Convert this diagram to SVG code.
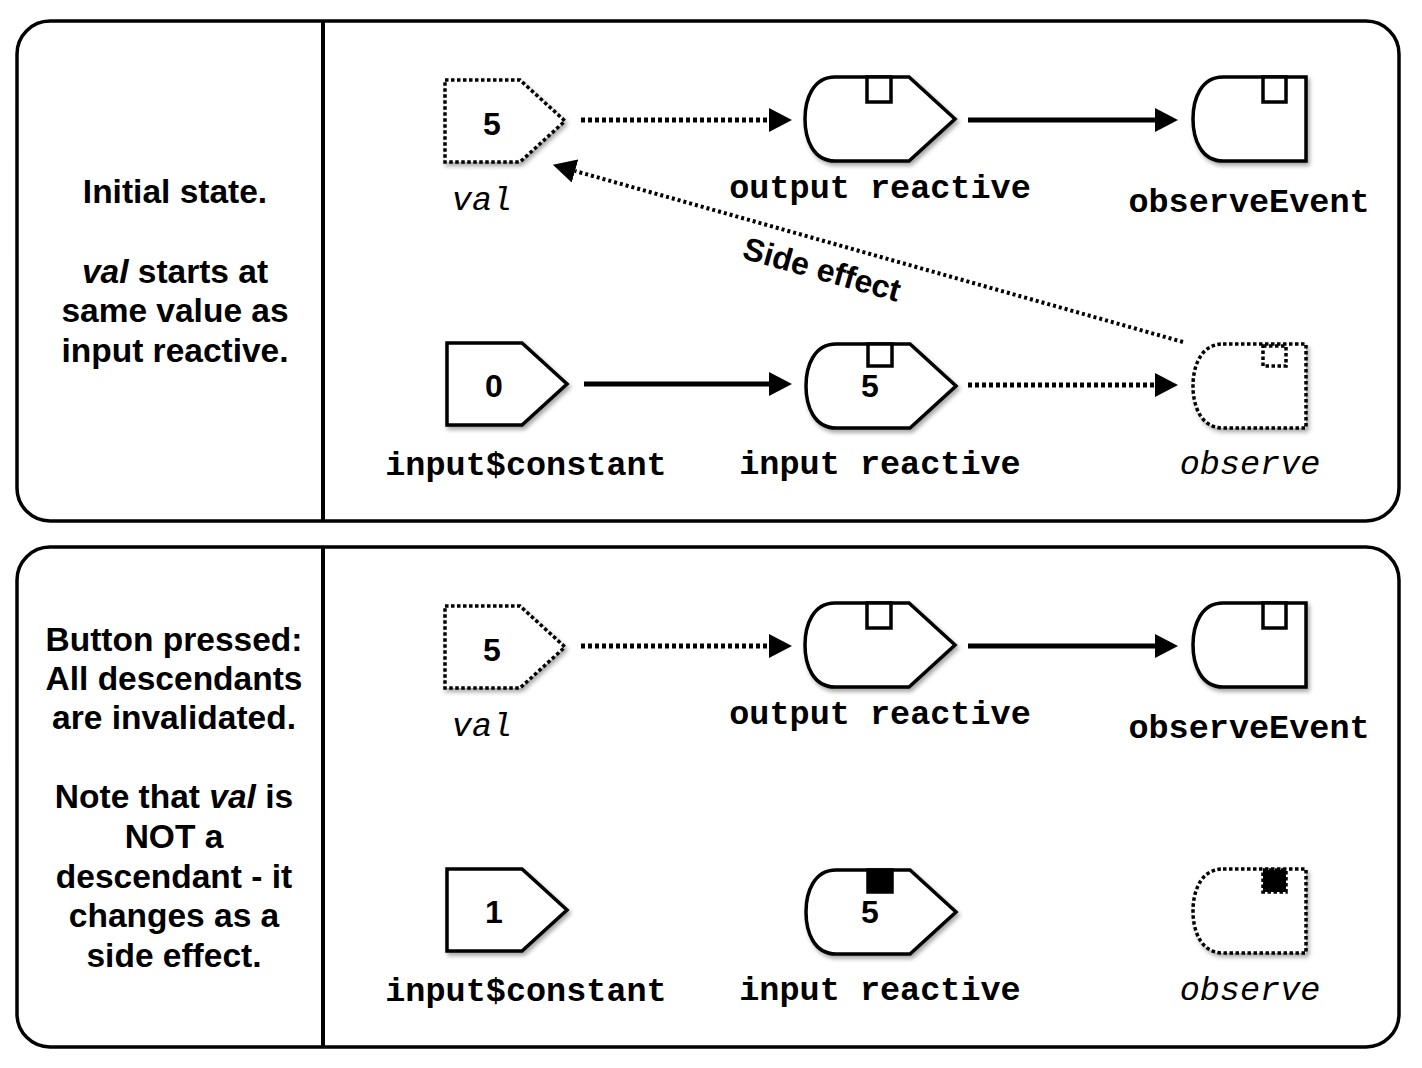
<svg xmlns="http://www.w3.org/2000/svg" xmlns:xlink="http://www.w3.org/1999/xlink" width="1422" height="1068" viewBox="0 0 1422 1068">
<style>
.panel{fill:#fff;stroke:#000;stroke-width:3.5}
.div{stroke:#000;stroke-width:4}
.node{fill:#fff;stroke:#000;stroke-width:3.5;stroke-linejoin:miter}
.dot{stroke-dasharray:3.5 2.5}
.sq{fill:#fff;stroke:#000;stroke-width:3.5}
.sqf{fill:#000;stroke:#000;stroke-width:3.5}
.edge{fill:none;stroke:#000;stroke-width:5}
.edot{stroke-dasharray:4 3}
.side{fill:none;stroke:#000;stroke-width:4;stroke-dasharray:3 3}
.desc{font-family:"Liberation Sans",Arial,Helvetica,sans-serif;font-weight:bold;font-size:33.5px;text-anchor:middle}
.num{font-family:"Liberation Sans",Arial,Helvetica,sans-serif;font-weight:bold;font-size:32px;text-anchor:middle}
.lbl{font-family:"Liberation Mono","Courier New",monospace;font-weight:bold;font-size:33.5px;text-anchor:middle}
.lbli{font-family:"Liberation Mono","Courier New",monospace;font-style:italic;font-size:33.5px;text-anchor:middle}
.sidelbl{font-family:"Liberation Sans",Arial,Helvetica,sans-serif;font-weight:bold;font-size:32px;text-anchor:middle}
</style>
<defs>
<filter id="sh" x="-20%" y="-20%" width="150%" height="150%">
<feDropShadow dx="2" dy="3" stdDeviation="2" flood-color="#000" flood-opacity="0.35"/>
</filter>
<marker id="ah" viewBox="0 0 23 24" refX="0" refY="12" markerWidth="23" markerHeight="24" markerUnits="userSpaceOnUse" orient="auto">
<path d="M0,0 L23,12 L0,24 Z" fill="#000"/>
</marker>
<path id="pent" d="M0,0 H75 L120,41 L75,82 H0 Z"/>
<path id="react" d="M30,0 H104 L150,42 L104,84 H30 C8,84 0,62 0,42 C0,22 8,0 30,0 Z"/>
<path id="obs" d="M30,0 H113 V84 H30 C8,84 0,62 0,42 C0,22 8,0 30,0 Z"/>
</defs>

<g id="panel1">
<rect class="panel" x="17" y="21" width="1382" height="500" rx="33" ry="33"/>
<line class="div" x1="323" y1="21" x2="323" y2="521"/>
<text class="desc" x="175" y="203">Initial state.</text>
<text class="desc" x="175" y="283"><tspan font-style="italic">val</tspan> starts at</text>
<text class="desc" x="175" y="322">same value as</text>
<text class="desc" x="175" y="362">input reactive.</text>
</g>

<g id="panel2">
<rect class="panel" x="17" y="547" width="1382" height="500" rx="33" ry="33"/>
<line class="div" x1="323" y1="547" x2="323" y2="1047"/>
<text class="desc" x="174" y="651">Button pressed:</text>
<text class="desc" x="174" y="690">All descendants</text>
<text class="desc" x="174" y="729">are invalidated.</text>
<text class="desc" x="174" y="808">Note that <tspan font-style="italic">val</tspan> is</text>
<text class="desc" x="174" y="848">NOT a</text>
<text class="desc" x="174" y="888">descendant - it</text>
<text class="desc" x="174" y="927">changes as a</text>
<text class="desc" x="174" y="967">side effect.</text>
</g>

<g id="connectors">
<line class="edge edot" x1="581" y1="120" x2="769" y2="120" marker-end="url(#ah)"/>
<line class="edge" x1="968" y1="120" x2="1155" y2="120" marker-end="url(#ah)"/>
<line class="edge" x1="584" y1="384" x2="769" y2="384" marker-end="url(#ah)"/>
<line class="edge edot" x1="968" y1="385" x2="1155" y2="385" marker-end="url(#ah)"/>
<line class="side" x1="1183" y1="342" x2="575" y2="171" marker-end="url(#ah)"/>
<text class="sidelbl" transform="translate(819,280) rotate(15.7)">Side effect</text>
<line class="edge edot" x1="581" y1="646" x2="769" y2="646" marker-end="url(#ah)"/>
<line class="edge" x1="968" y1="646" x2="1155" y2="646" marker-end="url(#ah)"/>
</g>

<g id="p1-val">
<use href="#pent" class="node dot" x="445" y="80" filter="url(#sh)"/>
<text class="num" x="492" y="135">5</text>
<text class="lbli" x="482" y="210">val</text>
</g>
<g id="p1-output-reactive">
<use href="#react" class="node" x="805" y="77" filter="url(#sh)"/>
<rect class="sq" x="867" y="77" width="24" height="25"/>
<text class="lbl" x="880" y="198">output reactive</text>
</g>
<g id="p1-observeEvent">
<use href="#obs" class="node" x="1193" y="77" filter="url(#sh)"/>
<rect class="sq" x="1263" y="77" width="23" height="25"/>
<text class="lbl" x="1249" y="212">observeEvent</text>
</g>
<g id="p1-input-constant">
<use href="#pent" class="node" x="447" y="343" filter="url(#sh)"/>
<text class="num" x="494" y="397">0</text>
<text class="lbl" x="526" y="475">input$constant</text>
</g>
<g id="p1-input-reactive">
<use href="#react" class="node" x="806" y="344" filter="url(#sh)"/>
<rect class="sq" x="868" y="344" width="24" height="22"/>
<text class="num" x="870" y="397">5</text>
<text class="lbl" x="880" y="474">input reactive</text>
</g>
<g id="p1-observe">
<use href="#obs" class="node dot" x="1193" y="344" filter="url(#sh)"/>
<rect class="sq dot" x="1263" y="346" width="23" height="20"/>
<text class="lbli" x="1250" y="474">observe</text>
</g>

<g id="p2-val">
<use href="#pent" class="node dot" x="445" y="606" filter="url(#sh)"/>
<text class="num" x="492" y="661">5</text>
<text class="lbli" x="482" y="736">val</text>
</g>
<g id="p2-output-reactive">
<use href="#react" class="node" x="805" y="603" filter="url(#sh)"/>
<rect class="sq" x="867" y="603" width="24" height="25"/>
<text class="lbl" x="880" y="724">output reactive</text>
</g>
<g id="p2-observeEvent">
<use href="#obs" class="node" x="1193" y="603" filter="url(#sh)"/>
<rect class="sq" x="1263" y="603" width="23" height="25"/>
<text class="lbl" x="1249" y="738">observeEvent</text>
</g>
<g id="p2-input-constant">
<use href="#pent" class="node" x="447" y="869" filter="url(#sh)"/>
<text class="num" x="494" y="923">1</text>
<text class="lbl" x="526" y="1001">input$constant</text>
</g>
<g id="p2-input-reactive">
<use href="#react" class="node" x="806" y="870" filter="url(#sh)"/>
<rect class="sqf" x="868" y="870" width="24" height="22"/>
<text class="num" x="870" y="923">5</text>
<text class="lbl" x="880" y="1000">input reactive</text>
</g>
<g id="p2-observe">
<use href="#obs" class="node dot" x="1193" y="869" filter="url(#sh)"/>
<rect class="sqf dot" x="1263" y="870" width="23" height="22"/>
<text class="lbli" x="1250" y="1000">observe</text>
</g>
</svg>
